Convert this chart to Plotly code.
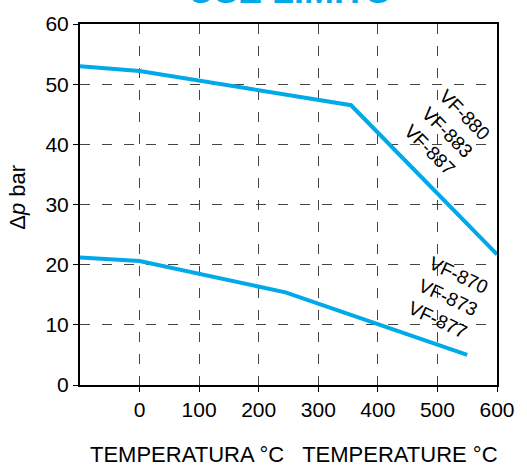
import plotly.graph_objects as go

temp_upper = [-100, 0, 355, 600]
dp_upper = [53.0, 52.2, 46.5, 21.7]
temp_lower = [-100, 0, 245, 550]
dp_lower = [21.2, 20.6, 15.4, 5.0]

x_ticks = [0, 100, 200, 300, 400, 500, 600]
y_ticks = [0, 10, 20, 30, 40, 50, 60]

BLUE = "#00A9E8"
FONT = "Liberation Sans, Arial, sans-serif"

fig = go.Figure()
fig.add_trace(go.Scatter(x=temp_upper, y=dp_upper, mode="lines",
                         line=dict(color=BLUE, width=4), showlegend=False))
fig.add_trace(go.Scatter(x=temp_lower, y=dp_lower, mode="lines",
                         line=dict(color=BLUE, width=4), showlegend=False))

fig.update_layout(
    width=527, height=467,
    margin=dict(l=80, r=27, t=23, b=82),
    paper_bgcolor="white", plot_bgcolor="white",
    font=dict(family=FONT, size=21, color="black"),
    xaxis=dict(range=[-100, 600], tickvals=x_ticks, ticktext=[str(v) for v in x_ticks],
               showline=True, linecolor="black", linewidth=2, mirror=True,
               ticks="outside", ticklen=5, tickcolor="black",
               showgrid=True, gridcolor="#444444", gridwidth=1.2, griddash="10px,12px",
               zeroline=False, tickfont=dict(size=21)),
    yaxis=dict(range=[0, 60], tickvals=y_ticks,
               showline=True, linecolor="black", linewidth=2, mirror=True,
               ticks="outside", ticklen=5, tickcolor="black",
               showgrid=True, gridcolor="#444444", gridwidth=1.2, griddash="10px,12px",
               zeroline=False, tickfont=dict(size=21)),
)

fig.add_annotation(text="<b>USE LIMITS</b>", xref="paper", yref="paper",
                   x=0.5, y=1.03, xanchor="center", yanchor="bottom",
                   showarrow=False, font=dict(size=36, color=BLUE, family=FONT))
fig.add_annotation(text="Δ<i>p</i> bar", xref="paper", yref="paper",
                   x=-0.15, y=0.52, xanchor="center", yanchor="middle", textangle=-90,
                   showarrow=False, font=dict(size=22, family=FONT))
fig.add_annotation(text="TEMPERATURA °C   TEMPERATURE °C", xref="paper", yref="paper",
                   x=0.514, y=-0.193, xanchor="center", yanchor="middle", showarrow=False,
                   font=dict(size=22, family=FONT))
fig.add_annotation(text="VF-880<br>VF-883<br>VF-887", x=516, y=42.0,
                   textangle=45, showarrow=False, font=dict(size=19, family=FONT))
fig.add_annotation(text="VF-870<br>VF-873<br>VF-877", x=517, y=14.6,
                   textangle=25, showarrow=False, font=dict(size=19, family=FONT))

fig.write_html("out.html")
